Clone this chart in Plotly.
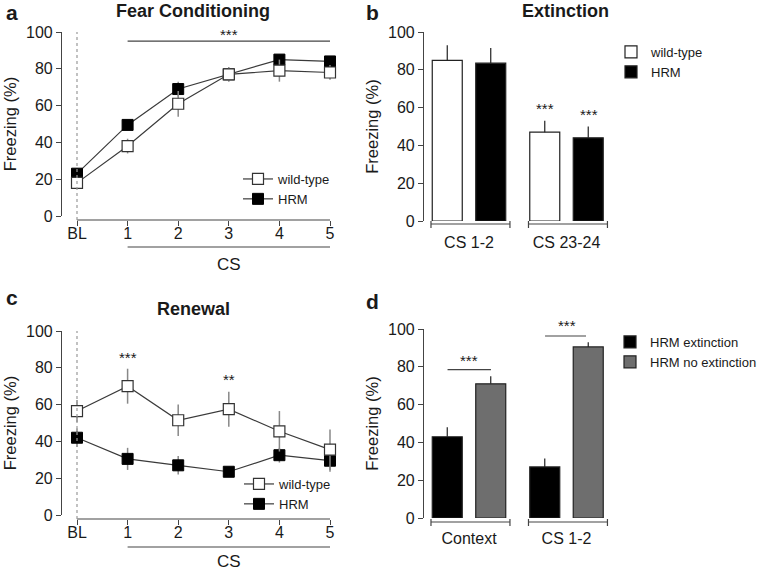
import plotly.graph_objects as go

W, H = 759, 571

# ---------------- data ----------------
cs_ticks = ["BL", "1", "2", "3", "4", "5"]
cs_pos = [0, 1, 2, 3, 4, 5]

# Panel a: Fear Conditioning
fc_wt = [18, 38, 61, 77, 79, 78]
fc_wt_err = [2, 4, 7, 4, 6, 4]
fc_hrm = [23, 49.5, 69, 77, 85, 84]
fc_hrm_err = [2, 2, 4, 2, 2, 2]

# Panel b: Extinction
ext_groups = ["CS 1-2", "CS 23-24"]
ext_wt = [85, 47]
ext_wt_err = [8, 6]
ext_hrm = [83.5, 44]
ext_hrm_err = [8, 6]

# Panel c: Renewal
ren_wt = [56.5, 70, 51.5, 57.5, 45.5, 35.5]
ren_wt_err = [6, 9.5, 8.5, 9.5, 11, 11]
ren_hrm = [42, 30.5, 27, 23.5, 32.5, 29.5]
ren_hrm_err = [5, 6, 5, 2, 4, 6]

# Panel d
d_groups = ["Context", "CS 1-2"]
d_ext = [43, 27]
d_ext_err = [5, 4.5]
d_noext = [71, 90.5]
d_noext_err = [4, 2.5]

# ---------------- helpers ----------------
def px(x):
    return x / W

def py(y):
    return 1 - y / H

TXT = "#1a1a1a"
AX = "#444444"
FONT = "Liberation Sans, Arial, sans-serif"

fig = go.Figure()

def line_traces(xa, ya, wt, wte, hrm, hrme, legend):
    fig.add_trace(go.Scatter(
        x=cs_pos, y=hrm, mode="lines+markers", name="HRM",
        xaxis=xa, yaxis=ya, legend=legend, cliponaxis=False,
        line=dict(color="#3a3a3a", width=1.2),
        marker=dict(symbol="square", size=11, color="black", line=dict(color="black", width=1)),
        error_y=dict(type="data", array=hrme, color="#888888", thickness=1.5, width=0),
    ))
    fig.add_trace(go.Scatter(
        x=cs_pos, y=wt, mode="lines+markers", name="wild-type",
        xaxis=xa, yaxis=ya, legend=legend, cliponaxis=False,
        line=dict(color="#3a3a3a", width=1.2),
        marker=dict(symbol="square", size=11, color="white", line=dict(color="#333333", width=1.2)),
        error_y=dict(type="data", array=wte, color="#888888", thickness=1.5, width=0),
    ))

line_traces("x", "y", fc_wt, fc_wt_err, fc_hrm, fc_hrm_err, "legend")
line_traces("x3", "y3", ren_wt, ren_wt_err, ren_hrm, ren_hrm_err, "legend3")

def bar_traces(xa, ya, names, v1, e1, c1, v2, e2, c2, legend):
    fig.add_trace(go.Bar(
        x=[0, 1], y=v1, name=names[0], xaxis=xa, yaxis=ya, legend=legend,
        offsetgroup="g1", marker=dict(color=c1, line=dict(color="#222222", width=1.2)),
        error_y=dict(type="data", symmetric=False, array=e1, arrayminus=[0, 0],
                     color="#222222", thickness=1.2, width=0),
    ))
    fig.add_trace(go.Bar(
        x=[0, 1], y=v2, name=names[1], xaxis=xa, yaxis=ya, legend=legend,
        offsetgroup="g2", marker=dict(color=c2, line=dict(color="#222222", width=1.2)),
        error_y=dict(type="data", symmetric=False, array=e2, arrayminus=[0, 0],
                     color="#222222", thickness=1.2, width=0),
    ))

bar_traces("x2", "y2", ["wild-type", "HRM"], ext_wt, ext_wt_err, "white",
           ext_hrm, ext_hrm_err, "black", "legend2")
bar_traces("x4", "y4", ["HRM extinction", "HRM no extinction"], d_ext, d_ext_err, "black",
           d_noext, d_noext_err, "#6e6e6e", "legend4")

# ---------------- axes ----------------
yax_common = dict(range=[0, 100], dtick=20, showline=True, linecolor=AX, linewidth=1.2,
                  ticks="outside", ticklen=5, tickcolor=AX, tickwidth=1.2,
                  showgrid=False, zeroline=False, anchor="free", automargin=False,
                  tickfont=dict(size=16, color=TXT, family=FONT),
                  title=dict(text="Freezing (%)", font=dict(size=16.5, color=TXT, family=FONT),
                             standoff=4))

xline_common = dict(showgrid=False, zeroline=False, showline=False, anchor="free",
                    automargin=False, ticklabelstandoff=-6,
                    ticks="outside", ticklen=5, tickcolor=AX, tickwidth=1.2,
                    tickvals=cs_pos, ticktext=cs_ticks,
                    tickfont=dict(size=16, color=TXT, family=FONT))

fig.update_layout(
    xaxis=dict(domain=[px(61), px(336)], range=[(61 - 77) / 50.6, 5 + (336 - 330) / 50.6],
               position=py(220), **xline_common),
    yaxis=dict(domain=[py(216), py(32)], position=px(61), **yax_common),
    xaxis3=dict(domain=[px(61), px(336)], range=[(61 - 77) / 50.6, 5 + (336 - 330) / 50.6],
                position=py(519), **xline_common),
    yaxis3=dict(domain=[py(515), py(331)], position=px(61), **yax_common),
)

xbar_common = dict(showgrid=False, zeroline=False, showline=False, anchor="free",
                   automargin=False, ticks="", tickvals=[0, 1],
                   tickfont=dict(size=16, color=TXT, family=FONT))
xr = [(423 - 469) / 97.5, (612 - 469) / 97.5]
fig.update_layout(
    xaxis2=dict(domain=[px(423), px(612)], range=xr, position=py(226), ticklabelstandoff=5,
                ticktext=ext_groups, **xbar_common),
    yaxis2=dict(domain=[py(221), py(32)], position=px(423), **yax_common),
    xaxis4=dict(domain=[px(423), px(612)], range=xr, position=py(524), ticklabelstandoff=3,
                ticktext=d_groups, **xbar_common),
    yaxis4=dict(domain=[py(518), py(329)], position=px(423), **yax_common),
    barmode="group", bargap=0.108, bargroupgap=0.31,
)

# ---------------- shapes ----------------
shapes = []
def hline(xref, x0, x1, ypix, color=AX, w=1.2):
    shapes.append(dict(type="line", xref=xref, yref="paper", x0=x0, x1=x1,
                       y0=py(ypix), y1=py(ypix), line=dict(color=color, width=w)))

for xr_, axis_y, top_y, cs_y in [("x", 220, 32, 247), ("x3", 519, 331, 547)]:
    hline(xr_, 0, 5, axis_y)
    hline(xr_, 1, 5, cs_y)
    shapes.append(dict(type="line", xref=xr_, yref="paper", x0=0, x1=0,
                       y0=py(axis_y), y1=py(top_y), line=dict(color="#999999", width=1.2, dash="dot")))

shapes.append(dict(type="line", xref="x", yref="y", x0=1, x1=5, y0=95, y1=95,
                   line=dict(color=AX, width=1.2)))

for xr_, ypix in [("x2", 224), ("x4", 522)]:
    for g in [0, 1]:
        a, b = g - 0.39, g + 0.42
        hline(xr_, a, b, ypix)
        for e in (a, b):
            shapes.append(dict(type="line", xref=xr_, yref="paper", x0=e, x1=e,
                               y0=py(ypix - 3), y1=py(ypix + 4), line=dict(color=AX, width=1.2)))

shapes.append(dict(type="line", xref="x4", yref="y4", x0=-0.22, x1=0.225, y0=78.5, y1=78.5,
                   line=dict(color=AX, width=1.2)))
shapes.append(dict(type="line", xref="x4", yref="y4", x0=0.78, x1=1.2, y0=96.3, y1=96.3,
                   line=dict(color=AX, width=1.2)))

fig.update_layout(shapes=shapes)

# ---------------- annotations ----------------
ann = []
def paper_text(text, x, y, size, bold=False, xanchor="center"):
    ann.append(dict(text=f"<b>{text}</b>" if bold else text, x=px(x), y=py(y), xref="paper",
                    yref="paper", showarrow=False, xanchor=xanchor, yanchor="middle",
                    font=dict(size=size, color=TXT, family=FONT)))

paper_text("a", 4, 12.5, 21, True, "left")
paper_text("b", 364, 13, 21, True, "left")
paper_text("c", 4, 297, 21, True, "left")
paper_text("d", 364, 301, 21, True, "left")
paper_text("Fear Conditioning", 193, 11, 18, True)
paper_text("Extinction", 565, 11, 18, True)
paper_text("Renewal", 193, 309, 18, True)
paper_text("CS", 229, 265, 17)
paper_text("CS", 229, 561, 17)

def stars(text, xref, yref, x, y, xshift=0, yshift=0):
    ann.append(dict(text=text, x=x, y=y, xref=xref, yref=yref, showarrow=False,
                    xshift=xshift, yshift=yshift, yanchor="middle",
                    font=dict(size=15, color=TXT, family=FONT)))

stars("***", "x", "y", 3, 95, yshift=7)
stars("***", "x2", "y2", 1, 59.5, -22)
stars("***", "x2", "y2", 1, 56.5, 22)
stars("***", "x3", "y3", 1, 85.5)
stars("**", "x3", "y3", 3, 73.5)
stars("***", "x4", "y4", 0, 83.5)
stars("***", "x4", "y4", 1, 96.3, yshift=10)

fig.update_layout(annotations=ann)

# ---------------- legends ----------------
leg_font = dict(size=13, color=TXT, family=FONT)
def leg(x, y, reverse=False):
    return dict(x=px(x), y=py(y), xanchor="left", yanchor="top", bgcolor="rgba(0,0,0,0)",
                font=leg_font, itemwidth=30, tracegroupgap=0,
                traceorder="reversed" if reverse else "normal")

fig.update_layout(
    legend=leg(238, 164, True),
    legend2=leg(611, 37),
    legend3=leg(239, 469, True),
    legend4=leg(610, 327),
)

fig.update_layout(
    width=W, height=H, margin=dict(l=0, r=0, t=0, b=0, autoexpand=False),
    paper_bgcolor="white", plot_bgcolor="white",
    font=dict(family=FONT, color=TXT), showlegend=True,
)

fig.write_html("out.html", config={"displayModeBar": False},
               post_script="document.body.style.margin='0';document.body.style.overflow='hidden';")
